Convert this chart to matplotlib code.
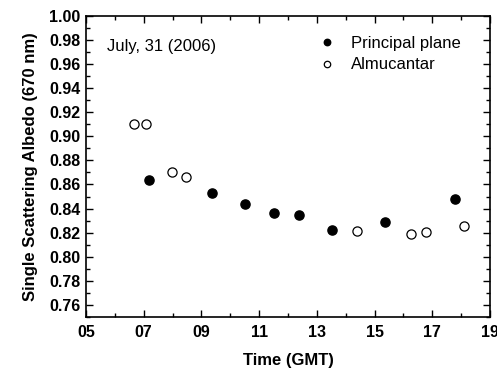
import matplotlib
matplotlib.use("Agg")
import matplotlib.pyplot as plt
from matplotlib.ticker import MultipleLocator, FuncFormatter

plt.rcParams['font.family'] = ['Liberation Sans', 'DejaVu Sans']

pp_time = [7.19, 9.37, 10.50, 11.50, 12.37, 13.51, 15.36, 17.79]
pp_ssa = [0.8635, 0.8527, 0.8439, 0.8361, 0.8345, 0.8223, 0.8289, 0.8483]
alm_time = [6.65, 7.08, 7.97, 8.47, 14.38, 16.27, 16.78, 18.10]
alm_ssa = [0.9106, 0.9106, 0.8705, 0.8665, 0.8212, 0.8189, 0.8206, 0.8256]
x_ticks = [5, 7, 9, 11, 13, 15, 17, 19]
y_ticks = [0.76, 0.78, 0.80, 0.82, 0.84, 0.86, 0.88, 0.90, 0.92, 0.94, 0.96, 0.98, 1.00]

fig = plt.figure(figsize=(4.97, 3.69), dpi=100)
ax = fig.add_axes([0.173, 0.141, 0.813, 0.816])

ax.plot(pp_time, pp_ssa, 'o', color='black', markersize=6.6, linestyle='none', label='Principal plane')
ax.plot(alm_time, alm_ssa, 'o', markerfacecolor='white', markeredgecolor='black', markeredgewidth=0.9,
        markersize=6.6, linestyle='none', label='Almucantar')

ax.set_xlim(5, 19)
ax.set_ylim(0.75, 1.00)
ax.set_xticks(x_ticks)
ax.set_yticks(y_ticks)
ax.xaxis.set_minor_locator(MultipleLocator(1))
ax.yaxis.set_minor_locator(MultipleLocator(0.01))
ax.xaxis.set_major_formatter(FuncFormatter(lambda v, p: f"{int(round(v)):02d}"))
ax.yaxis.set_major_formatter(FuncFormatter(lambda v, p: f"{v:.2f}"))

ax.tick_params(which='both', direction='in', top=True, right=True, width=1.0)
ax.tick_params(which='major', length=5, labelsize=11.5)
ax.tick_params(axis='x', which='major', pad=6)
ax.tick_params(axis='y', which='major', pad=4)
ax.tick_params(which='minor', length=3)
for lab in ax.get_xticklabels() + ax.get_yticklabels():
    lab.set_fontweight('bold')
for s in ax.spines.values():
    s.set_linewidth(1.2)

ax.set_xlabel('Time (GMT)', fontsize=12, fontweight='bold', labelpad=9)
ax.set_ylabel('Single Scattering Albedo (670 nm)', fontsize=12, fontweight='bold', labelpad=8)

ax.text(0.052, 0.898, 'July, 31 (2006)', transform=ax.transAxes, fontsize=12, va='center', ha='left')

leg = ax.legend(loc='upper left', bbox_to_anchor=(0.577, 0.933), frameon=False, fontsize=12,
                markerscale=0.7, handletextpad=0.9, borderaxespad=0, borderpad=0,
                labelspacing=0.38, handlelength=1.0)

fig.savefig('out.png', dpi=100)
